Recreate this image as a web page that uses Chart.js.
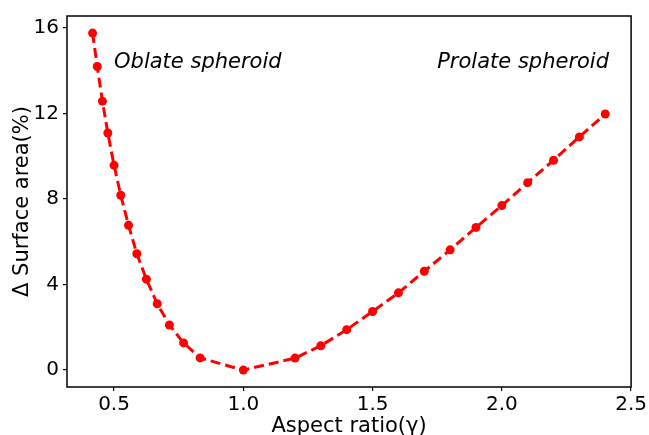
<!DOCTYPE html>
<html>
<head>
<meta charset="utf-8">
<script src="https://cdn.jsdelivr.net/npm/chart.js@4"></script>
<style>
  html, body { margin: 0; padding: 0; background: #fff; }
  canvas { display: block; }
</style>
</head>
<body>
<canvas id="surfChart" width="649" height="435"></canvas>
<script>
// aspect ratio (gamma) and the surface area difference in %
const aspectRatio = [0.417, 0.435, 0.455, 0.476, 0.5, 0.526, 0.556, 0.588, 0.625, 0.667, 0.714, 0.769, 0.833,
    1.0, 1.2, 1.3, 1.4, 1.5, 1.6, 1.7, 1.8, 1.9, 2.0, 2.1, 2.2, 2.3, 2.4];
const surfaceDiff = [15.75, 14.19, 12.57, 11.08, 9.57, 8.17, 6.77, 5.44, 4.25, 3.10, 2.11, 1.27, 0.57,
    0.0, 0.56, 1.14, 1.89, 2.74, 3.61, 4.62, 5.62, 6.67, 7.69, 8.76, 9.81, 10.90, 11.97];
const xTicks = [0.5, 1.0, 1.5, 2.0, 2.5];
const xTickLabels = ['0.5', '1.0', '1.5', '2.0', '2.5'];
const yTicks = [0, 4, 8, 12, 16];
const yTickLabels = ['0', '4', '8', '12', '16'];
const notes = [
    { text: 'Oblate spheroid', x: 0.5, y: 14.1 },
    { text: 'Prolate spheroid', x: 1.75, y: 14.1 }
];

const FONT = 'DejaVu Sans';

// box round the plot area + the two italic labels
const framePlugin = {
    id: 'frame',
    afterDraw(chart) {
        const { ctx, chartArea: a, scales } = chart;
        ctx.save();
        ctx.strokeStyle = '#000';
        ctx.lineWidth = 1.5;
        ctx.strokeRect(a.left, a.top, a.right - a.left, a.bottom - a.top);
        ctx.fillStyle = '#000';
        ctx.font = 'italic 21px "' + FONT + '"';
        ctx.textAlign = 'left';
        ctx.textBaseline = 'alphabetic';
        notes.forEach(n => {
            ctx.fillText(n.text, scales.x.getPixelForValue(n.x), scales.y.getPixelForValue(n.y));
        });
        ctx.restore();
    }
};

const ctx = document.getElementById('surfChart').getContext('2d');
new Chart(ctx, {
    type: 'line',
    data: {
        datasets: [{
            data: aspectRatio.map((x, i) => ({ x: x, y: surfaceDiff[i] })),
            borderColor: '#ff0000',
            backgroundColor: '#ff0000',
            borderWidth: 3,
            borderDash: [10, 5],
            pointRadius: 4.5,
            pointBorderWidth: 0,
            tension: 0,
            fill: false
        }]
    },
    options: {
        responsive: false,
        animation: false,
        layout: { padding: { left: 0, top: 13, right: 17, bottom: 0 } },
        plugins: { legend: { display: false }, tooltip: { enabled: false } },
        scales: {
            x: {
                type: 'linear',
                min: 0.318,
                max: 2.5,
                afterBuildTicks: s => { s.ticks = xTicks.map(v => ({ value: v })); },
                afterFit: s => { s.height = 48; },
                grid: { drawOnChartArea: false, drawTicks: true, tickLength: 4, color: '#000', lineWidth: 1.2 },
                border: { display: false },
                ticks: {
                    padding: 2,
                    color: '#000',
                    font: { family: FONT, size: 20 },
                    maxRotation: 0,
                    callback: (v, i) => xTickLabels[i]
                },
                title: {
                    display: true,
                    text: 'Aspect ratio(\u03b3)',
                    color: '#000',
                    font: { family: FONT, size: 21 },
                    padding: { top: 0, bottom: -4 }
                }
            },
            y: {
                type: 'linear',
                min: -0.79,
                max: 16.55,
                afterBuildTicks: s => { s.ticks = yTicks.map(v => ({ value: v })); },
                afterFit: s => { s.width = 67; },
                grid: { drawOnChartArea: false, drawTicks: true, tickLength: 4, color: '#000', lineWidth: 1.2 },
                border: { display: false },
                ticks: {
                    padding: 4,
                    color: '#000',
                    font: { family: FONT, size: 20 },
                    callback: (v, i) => yTickLabels[i]
                },
                title: {
                    display: true,
                    text: '\u0394 Surface area(%)',
                    color: '#000',
                    font: { family: FONT, size: 21 },
                    padding: { top: 10, bottom: 0 }
                }
            }
        }
    },
    plugins: [framePlugin]
});
</script>
</body>
</html>
